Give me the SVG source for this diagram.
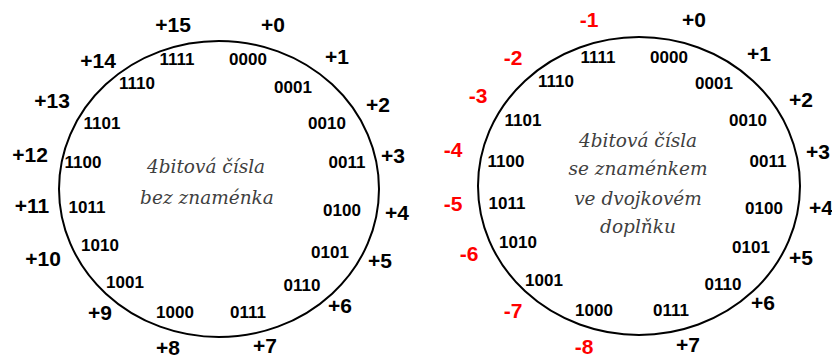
<svg xmlns="http://www.w3.org/2000/svg" width="832" height="358" viewBox="0 0 832 358">
<style>
.ring{fill:none;stroke:#000;stroke-width:2}
.v{font-family:"Liberation Sans",Arial,sans-serif;font-weight:bold;font-size:21px;fill:#000;text-anchor:middle}
.n{fill:#ff0000}
.b{font-family:"Liberation Sans",Arial,sans-serif;font-weight:bold;font-size:17px;fill:#000;text-anchor:middle}
.t{font-family:"DejaVu Serif","Liberation Serif",serif;font-style:italic;font-size:18.5px;fill:#404040;text-anchor:middle}
</style>
<rect width="832" height="358" fill="#fff"/>
<g id="unsigned">
<ellipse class="ring" cx="219" cy="189" rx="160" ry="148"/>
<text class="t" x="206" y="173">4bitová čísla</text>
<text class="t" x="207" y="204">bez znaménka</text>
<g class="b">
<text x="248" y="65">0000</text><text x="293" y="93">0001</text><text x="327" y="129">0010</text><text x="347" y="168">0011</text>
<text x="342" y="216">0100</text><text x="330" y="258">0101</text><text x="302" y="291">0110</text><text x="248" y="318">0111</text>
<text x="175" y="318">1000</text><text x="125" y="288">1001</text><text x="100" y="251">1010</text><text x="87" y="213">1011</text>
<text x="83" y="168">1100</text><text x="102" y="129">1101</text><text x="137" y="89">1110</text><text x="177" y="65">1111</text>
</g>
<g class="v">
<text x="273" y="32">+0</text><text x="337" y="64">+1</text><text x="378" y="112">+2</text><text x="393" y="163">+3</text>
<text x="397" y="220">+4</text><text x="380" y="268">+5</text><text x="340" y="313">+6</text><text x="265" y="353">+7</text>
<text x="168" y="355">+8</text><text x="100" y="320">+9</text><text x="43" y="266">+10</text><text x="32" y="213">+11</text>
<text x="30" y="162">+12</text><text x="52" y="108">+13</text><text x="98" y="68">+14</text><text x="173" y="32">+15</text>
</g>
</g>
<g id="signed">
<ellipse class="ring" cx="639" cy="186" rx="161" ry="149"/>
<text class="t" x="638" y="147">4bitová čísla</text>
<text class="t" x="638" y="175">se znaménkem</text>
<text class="t" x="638" y="205">ve dvojkovém</text>
<text class="t" x="638" y="233">doplňku</text>
<g class="b">
<text x="669" y="63">0000</text><text x="714" y="89">0001</text><text x="748" y="126">0010</text><text x="768" y="167">0011</text>
<text x="764" y="214">0100</text><text x="751" y="253">0101</text><text x="723" y="290">0110</text><text x="671" y="316">0111</text>
<text x="594" y="316">1000</text><text x="544" y="286">1001</text><text x="518" y="248">1010</text><text x="507" y="209">1011</text>
<text x="506" y="167">1100</text><text x="523" y="126">1101</text><text x="556" y="87">1110</text><text x="598" y="63">1111</text>
</g>
<g class="v">
<text x="694" y="27">+0</text><text x="759" y="61">+1</text><text x="801" y="107">+2</text><text x="818" y="159">+3</text>
<text x="821" y="215">+4</text><text x="801" y="265">+5</text><text x="763" y="310">+6</text><text x="688" y="352">+7</text>
</g>
<g class="v n">
<text x="584" y="354">-8</text><text x="513" y="318">-7</text><text x="469" y="261">-6</text><text x="453" y="211">-5</text>
<text x="453" y="157">-4</text><text x="478" y="103">-3</text><text x="513" y="65">-2</text><text x="589" y="27">-1</text>
</g>
</g>
</svg>
